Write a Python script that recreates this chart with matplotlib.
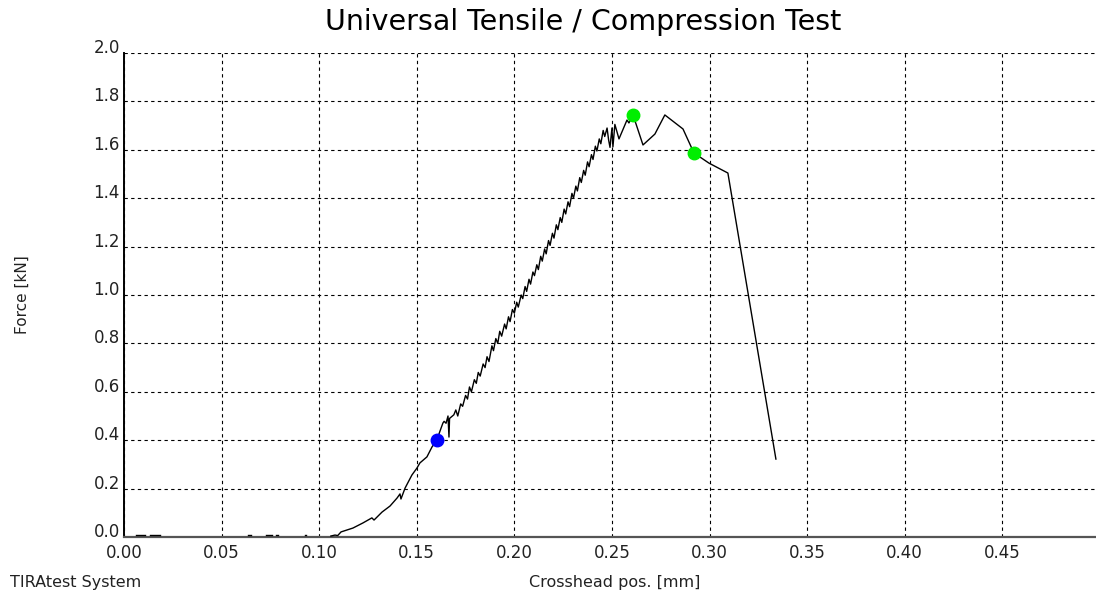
import numpy as np
import matplotlib
matplotlib.use("Agg")
import matplotlib.pyplot as plt

# ---- data ----
# near-zero noise before the rise (segments separated by gaps)
base_x = [0.006, 0.011, np.nan, 0.0133, 0.0185, np.nan, 0.0635, 0.0650, np.nan,
          0.0730, 0.0760, np.nan, 0.0780, 0.0788, np.nan, 0.0925, 0.0935]
base_y = [0.007, 0.007, np.nan, 0.007, 0.007, np.nan, 0.007, 0.007, np.nan,
          0.007, 0.007, np.nan, 0.007, 0.007, np.nan, 0.007, 0.007]

# main force curve
pos = [0.1060, 0.1081, 0.1095, 0.1112, 0.1173, 0.1224, 0.1270, 0.1281, 0.1322,
       0.1363, 0.1399, 0.1414, 0.1419, 0.1440, 0.1475, 0.1501, 0.1516, 0.1552,
       0.1578, 0.1603, 0.1620, 0.1634, 0.1640, 0.1650, 0.1660, 0.1665, 0.1668,
       0.1690, 0.1700, 0.1710, 0.1725, 0.1735, 0.1750, 0.1760, 0.1770, 0.1780,
       0.1795, 0.1805, 0.1815, 0.1825, 0.1840, 0.1850, 0.1860, 0.1870, 0.1885,
       0.1893, 0.1905, 0.1915, 0.1925, 0.1935, 0.1950, 0.1958, 0.1970, 0.1978,
       0.1990, 0.2000, 0.2012, 0.2020, 0.2035, 0.2043, 0.2055, 0.2063, 0.2075,
       0.2083, 0.2095, 0.2103, 0.2115, 0.2123, 0.2135, 0.2143, 0.2155, 0.2163,
       0.2175, 0.2183, 0.2195, 0.2203, 0.2215, 0.2223, 0.2235, 0.2243, 0.2255,
       0.2263, 0.2275, 0.2283, 0.2295, 0.2303, 0.2315, 0.2323, 0.2335, 0.2343,
       0.2355, 0.2363, 0.2375, 0.2383, 0.2395, 0.2403, 0.2415, 0.2423, 0.2435,
       0.2443, 0.2455, 0.2463, 0.2475, 0.2483, 0.2490, 0.2500, 0.2505, 0.2515,
       0.2536, 0.2577, 0.2587, 0.2608, 0.2659, 0.2720, 0.2771, 0.2864, 0.2920,
       0.2997, 0.3094, 0.3340]
force = [0.004, 0.008, 0.006, 0.021, 0.037, 0.058, 0.079, 0.070, 0.103,
         0.128, 0.161, 0.178, 0.157, 0.202, 0.256, 0.285, 0.306, 0.331,
         0.372, 0.401, 0.440, 0.471, 0.478, 0.470, 0.500, 0.413, 0.490,
         0.505, 0.525, 0.500, 0.550, 0.540, 0.585, 0.570, 0.620, 0.600,
         0.650, 0.635, 0.680, 0.665, 0.715, 0.700, 0.745, 0.725, 0.790,
         0.770, 0.820, 0.800, 0.850, 0.830, 0.880, 0.860, 0.910, 0.890,
         0.940, 0.925, 0.970, 0.950, 1.000, 0.985, 1.035, 1.015, 1.065,
         1.045, 1.095, 1.080, 1.125, 1.105, 1.160, 1.140, 1.190, 1.170,
         1.225, 1.205, 1.255, 1.235, 1.290, 1.270, 1.320, 1.300, 1.355,
         1.335, 1.385, 1.365, 1.420, 1.400, 1.450, 1.430, 1.485, 1.465,
         1.515, 1.495, 1.550, 1.530, 1.580, 1.560, 1.615, 1.595, 1.645,
         1.625, 1.680, 1.655, 1.690, 1.640, 1.610, 1.690, 1.612, 1.705,
         1.645, 1.723, 1.711, 1.744, 1.620, 1.665, 1.744, 1.686, 1.587,
         1.545, 1.504, 0.322]

blue_pt = (0.1603, 0.401)
green_x = [0.2608, 0.2920]
green_y = [1.744, 1.587]

x_ticks = [0.00, 0.05, 0.10, 0.15, 0.20, 0.25, 0.30, 0.35, 0.40, 0.45]
y_ticks = [0.0, 0.2, 0.4, 0.6, 0.8, 1.0, 1.2, 1.4, 1.6, 1.8, 2.0]

# ---- figure ----
fig = plt.figure(figsize=(10.96, 5.98), dpi=100)
ax = fig.add_axes([124/1096, 1-537/598, (1096-124)/1096, (537-53)/598])

ax.set_xlim(0, 0.498)
ax.set_ylim(0, 2.0)
ax.set_xticks(x_ticks)
ax.set_xticklabels([f"{v:.2f}" for v in x_ticks])
ax.set_yticks(y_ticks)
ax.set_yticklabels([f"{v:.1f}" for v in y_ticks])

ax.grid(True, color="black", linestyle=(0, (3, 3)), linewidth=0.8)
ax.set_axisbelow(True)

for s in ["top", "right"]:
    ax.spines[s].set_visible(False)
ax.spines["left"].set_color("black")
ax.spines["left"].set_linewidth(1.4)
ax.spines["bottom"].set_color("#555555")
ax.spines["bottom"].set_linewidth(1.6)

ax.tick_params(axis="both", length=0, labelsize=12, colors="#222222")
ax.tick_params(axis="x", pad=5)
ax.tick_params(axis="y", pad=3)
for lab in ax.get_yticklabels():
    lab.set_verticalalignment("baseline")

ax.plot(base_x, base_y, color="black", linewidth=1.0, clip_on=False, zorder=3)
ax.plot(pos, force, color="black", linewidth=1.0, zorder=3)
ax.plot([blue_pt[0]], [blue_pt[1]], "o", color="#0000ff", markersize=9, zorder=4)
ax.plot(green_x, green_y, "o", color="#00ee00", markersize=9, linestyle="none", zorder=4)

fig.text(583/1096, 1-22/598, "Universal Tensile / Compression Test",
         ha="center", va="center", fontsize=20.5, color="black")
fig.text(22/1096, 1-295/598, "Force [kN]", rotation=90, ha="center",
         va="center", fontsize=11, color="#222222")
fig.text(615/1096, 1-582/598, "Crosshead pos. [mm]", ha="center",
         va="center", fontsize=11.5, color="#222222")
fig.text(10/1096, 1-582/598, "TIRAtest System", ha="left",
         va="center", fontsize=11.5, color="#222222")

fig.savefig("out.png", dpi=100)
